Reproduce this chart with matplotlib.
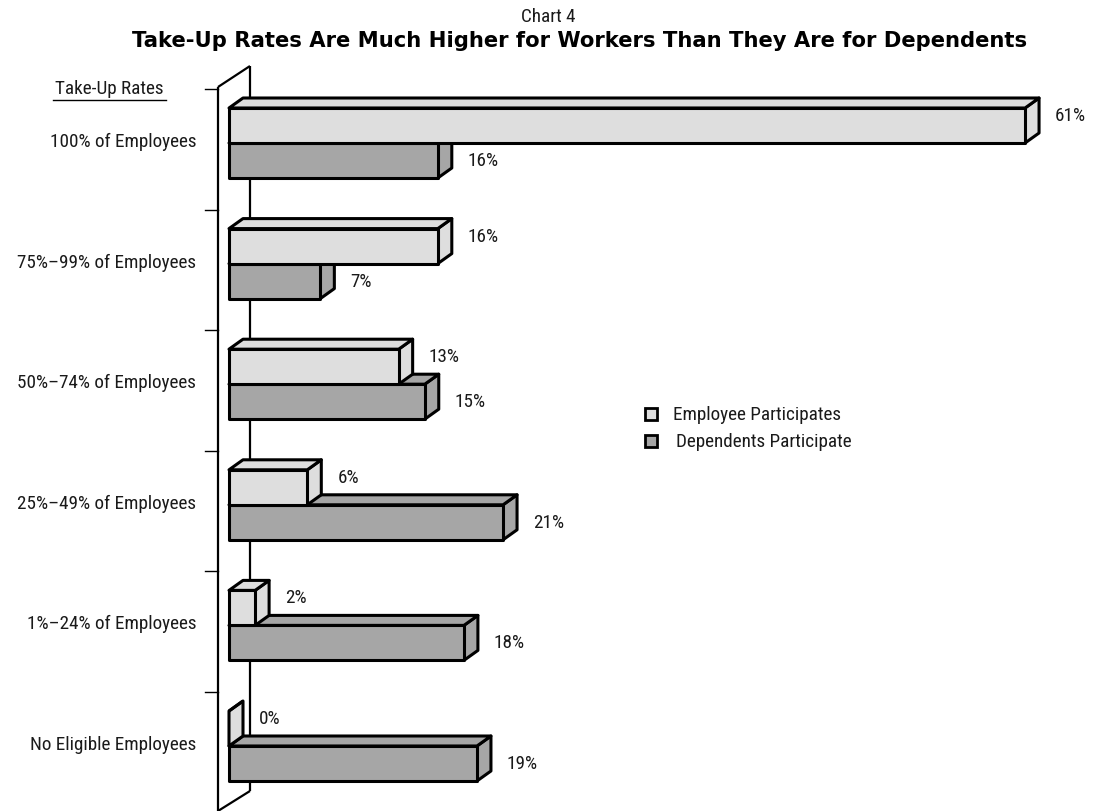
import matplotlib
matplotlib.use("Agg")
import matplotlib.pyplot as plt
from matplotlib.patches import Polygon, Rectangle
from matplotlib.lines import Line2D
from matplotlib import font_manager

# ---------------- data ----------------
categories = ["100% of Employees", "75%\u201399% of Employees", "50%\u201374% of Employees",
              "25%\u201349% of Employees", "1%\u201324% of Employees", "No Eligible Employees"]
employee_participates = [61, 16, 13, 6, 2, 0]
dependents_participate = [16, 7, 15, 21, 18, 19]
series_names = ["Employee Participates", "Dependents Participate"]
axis_title = "Take-Up Rates"
chart_number = "Chart 4"
chart_title = "Take-Up Rates Are Much Higher for Workers Than They Are for Dependents"

# ---------------- style ----------------
available = {f.name for f in font_manager.fontManager.ttflist}
def pick(cands):
    for c in cands:
        if c in available:
            return c
    return "DejaVu Sans"

NARROW_NAME = pick(["Liberation Sans Narrow", "Roboto Condensed", "DejaVu Sans Condensed",
                    "Open Sans Condensed", "Liberation Sans"])
NARROW = [NARROW_NAME, "DejaVu Sans"]
BOLD = ["DejaVu Sans"]
emp_color = "#DEDEDE"
dep_color = "#A6A6A6"
text_color = "#1A1A1A"
edge_lw = 2.2

W, H = 1093, 812
fig = plt.figure(figsize=(W / 100, H / 100), dpi=100)
ax = fig.add_axes([0, 0, 1, 1])
ax.axis("off")

# scale: pixel layout of the reference
x0_px, px_per_pct = 229.0, 13.05
y0_px, px_per_band = 144.0, 120.6
ax.set_xlim(-x0_px / px_per_pct, (W - x0_px) / px_per_pct)
ax.set_ylim((H - y0_px) / px_per_band, -y0_px / px_per_band)

def ux(p):  # pixel distance -> x data units
    return p / px_per_pct

def uy(p):  # pixel distance -> y data units
    return p / px_per_band

bar_h = uy(35)
ddx, ddy = ux(14), uy(10)

# ---------------- wall ----------------
wf, wb = ux(218 - x0_px), ux(250 - x0_px)
w_top_f, w_top_b = uy(88 - y0_px), uy(67 - y0_px)
w_bot_f, w_bot_b = uy(812 - y0_px), uy(792 - y0_px)
wall = Polygon([(wf, w_top_f), (wb, w_top_b), (wb, w_bot_b), (wf, w_bot_f)],
               closed=True, facecolor="white", edgecolor="none", zorder=1)
ax.add_patch(wall)
for xs, ys in [((wf, wf), (w_top_f, w_bot_f)), ((wb, wb), (w_top_b, w_bot_b)),
               ((wf, wb), (w_top_f, w_top_b)), ((wf, wb), (w_bot_f, w_bot_b))]:
    ax.add_line(Line2D(xs, ys, color="black", lw=1.6, zorder=2, solid_capstyle="butt"))

# ticks on the wall (one above each band)
for i in range(len(categories)):
    ty = i - uy(54)
    ax.add_line(Line2D((ux(205 - x0_px), wf), (ty, ty), color="black", lw=1.0, zorder=2))


def bar3d(value, y_top, color, z):
    x1 = value
    yb = y_top + bar_h
    # right face
    ax.add_patch(Polygon([(x1, y_top), (x1 + ddx, y_top - ddy), (x1 + ddx, yb - ddy), (x1, yb)],
                         closed=True, facecolor=color, edgecolor="black", lw=edge_lw,
                         joinstyle="round", zorder=z))
    # top face
    ax.add_patch(Polygon([(0, y_top), (ddx, y_top - ddy), (x1 + ddx, y_top - ddy), (x1, y_top)],
                         closed=True, facecolor=color, edgecolor="black", lw=edge_lw,
                         joinstyle="round", zorder=z))
    # front face
    if value > 0:
        ax.add_patch(Rectangle((0, y_top), x1, bar_h, facecolor=color, edgecolor="black",
                               lw=edge_lw, joinstyle="round", zorder=z))


fs = 13.8
for i, (e, d) in enumerate(zip(employee_participates, dependents_participate)):
    base_z = 10 + i * 4
    bar3d(d, i, dep_color, base_z)
    bar3d(e, i - bar_h, emp_color, base_z + 2)
    ax.text(e + ddx + ux(16), i - uy(28), f"{e}%", fontsize=fs, family=NARROW,
            ha="left", va="center", color=text_color)
    ax.text(d + ddx + ux(16), i + uy(17), f"{d}%", fontsize=fs, family=NARROW,
            ha="left", va="center", color=text_color)
    ax.text(ux(196 - x0_px), i - uy(2), categories[i], fontsize=fs, family=NARROW,
            ha="right", va="center", color=text_color)

# axis title with underline
ax.text(ux(109 - x0_px), uy(89 - y0_px), axis_title, fontsize=fs, family=NARROW,
        ha="center", va="center", color=text_color)
ax.add_line(Line2D((ux(53 - x0_px), ux(166 - x0_px)), (uy(101 - y0_px), uy(101 - y0_px)),
                   color="black", lw=1.0))

# titles
fig.text(548 / W, 1 - 17 / H, chart_number, fontsize=fs, family=NARROW,
         ha="center", va="center", color=text_color)
ttl = fig.text(580 / W, 1 - 41 / H, chart_title, fontsize=15, family=BOLD, weight="bold",
               ha="center", va="center", color="black")

# legend
for k, (name, col) in enumerate(zip(series_names, [emp_color, dep_color])):
    cy = 415 + 27 * k
    fig.patches.append(Rectangle((645 / W, 1 - (cy + 6) / H), 12 / W, 12 / H,
                                 facecolor=col, edgecolor="black", lw=2.0,
                                 transform=fig.transFigure, figure=fig))
    fig.text((673 + 3 * k) / W, 1 - cy / H, name, fontsize=fs, family=NARROW,
             ha="left", va="center", color=text_color)

# fit title width to the reference (~900 px)
fig.canvas.draw()
bb = ttl.get_window_extent()
ttl.set_fontsize(15 * 900 / bb.width)

fig.savefig("out.png", dpi=100, facecolor="white")
